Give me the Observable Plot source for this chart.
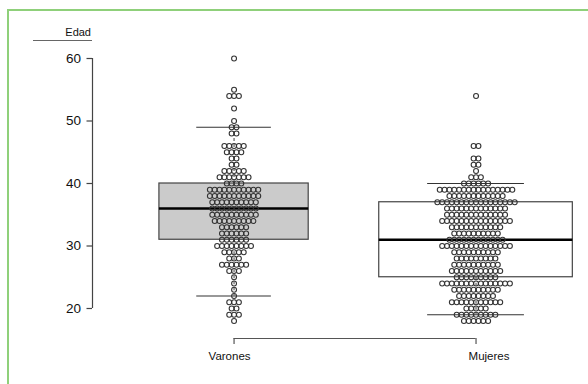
<!DOCTYPE html>
<html><head><meta charset="utf-8">
<script src="https://cdn.jsdelivr.net/npm/d3@7"></script>
<script src="https://cdn.jsdelivr.net/npm/@observablehq/plot@0.6"></script>
<style>
html,body{margin:0;padding:0;background:#fff;overflow:hidden;}
#wrap{position:relative;width:588px;height:384px;font-family:"Liberation Sans",Arial,sans-serif;}
#border{position:absolute;left:7px;top:9px;width:640px;height:440px;border:2px solid #8fd07a;box-sizing:border-box;}
#chart{position:absolute;left:0;top:0;}
#ylab{position:absolute;left:33px;top:26px;width:58px;text-align:right;font-size:11px;color:#111;border-bottom:1.5px solid #666;line-height:13px;padding-bottom:1px;padding-right:1px;box-sizing:content-box;}
</style></head><body>
<div id="wrap"><div id="border"></div><div id="chart"></div><div id="ylab">Edad</div></div>
<script>
// ---- data ----
const categories = ["Varones", "Mujeres"];
const yTicks = [20, 30, 40, 50, 60];

const varonesAges   = [60,55,54,52,50,49,48,46,45,44,43,42,41,40,39,38,37,36,35,34,33,32,31,30,29,28,27,26,25,24,23,22,21,20,19,18];
const varonesCounts = [ 1, 1, 3, 1, 1, 2, 2, 5, 4, 2, 2, 5, 7, 4,11,11,10,10,10, 9, 6, 6, 6, 8, 5, 3, 6, 3, 1, 1, 1, 1, 3, 2, 3, 1];

const mujeresAges   = [54,46,44,43,42,41,40,39,38,37,36,35,34,33,32,31,30,29,28,27,26,25,24,23,22,21,20,19,18];
const mujeresCounts = [ 1, 2, 2, 2, 1, 3, 6,16,12,17,13,13,15,11,10,12,15,10, 9,10,11, 9,15,10, 8,11, 5, 9, 6];

// box summaries (Q1, median, Q3, whisker ends)
const q1Values     = [31, 25];
const medianValues = [36, 31];
const q3Values     = [40, 37];
const whiskerLo    = [22, 19];
const whiskerHi    = [49, 40];
const boxFills     = ["#cbcbcb", "#ffffff"];

// ---- build tables ----
const groupAges = [varonesAges, mujeresAges];
const groupCounts = [varonesCounts, mujeresCounts];
const spacing = 0.02;
const points = [];
groupAges.forEach((ages, gi) => {
  ages.forEach((age, k) => {
    const n = groupCounts[gi][k];
    for (let i = 0; i < n; i++) points.push({g: gi + 1, x: gi + 1 + (i - (n - 1) / 2) * spacing, y: age});
  });
});
const totals = groupCounts.map(c => d3.sum(c));
const nmax = d3.max(totals);
const boxes = categories.map((c, i) => {
  const hw = 0.4 * Math.sqrt(totals[i] / nmax);
  return {g: i + 1, name: c, q1: q1Values[i], med: medianValues[i], q3: q3Values[i],
          lo: whiskerLo[i], hi: whiskerHi[i], x1: i + 1 - hw, x2: i + 1 + hw,
          c1: i + 1 - hw / 2, c2: i + 1 + hw / 2, fill: boxFills[i]};
});

const xDomain = [0.415, 2.44];
const yDomain = [20, 60];
const labelDx = [-4.5, 13];

const chart = Plot.plot({
  width: 588, height: 384,
  marginLeft: 92, marginRight: 6, marginTop: 58, marginBottom: 46,
  x: {domain: xDomain, axis: null},
  y: {domain: yDomain, range: [308, 58], axis: null},
  color: {type: "identity"},
  style: {fontFamily: "Liberation Sans, Arial, sans-serif", background: "transparent", color: "#111"},
  marks: [
    Plot.ruleX([xDomain[0]], {y1: yTicks[0], y2: yTicks[yTicks.length - 1], stroke: "#444", strokeWidth: 1.2}),
    Plot.axisY({ticks: yTicks, tickSize: 5.5, tickPadding: 6, fontSize: 13.5, label: null, stroke: "#444", strokeWidth: 1.2, fill: "#111"}),
    Plot.ruleY([yDomain[0]], {x1: 1, x2: 2, dy: 30, stroke: "#555", strokeWidth: 1.2}),
    Plot.axisX({ticks: [1, 2], tickSize: 6, tickFormat: () => "", label: null, stroke: "#555", strokeWidth: 1.2}),
    ...categories.map((c, i) => Plot.text([c], {x: i + 1, frameAnchor: "bottom", dy: 21.5, dx: labelDx[i], fontSize: 11.5, fill: "#111"})),
    Plot.rect(boxes, {x1: "x1", x2: "x2", y1: "q1", y2: "q3", fill: "fill", stroke: "#444", strokeWidth: 1.2}),
    Plot.ruleX(boxes, {x: "g", y1: "q3", y2: "hi", stroke: "#444", strokeDasharray: "3,3"}),
    Plot.ruleX(boxes, {x: "g", y1: "q1", y2: "lo", stroke: "#444", strokeDasharray: "3,3"}),
    Plot.ruleY(boxes, {y: "hi", x1: "c1", x2: "c2", stroke: "#333", strokeWidth: 1.2}),
    Plot.ruleY(boxes, {y: "lo", x1: "c1", x2: "c2", stroke: "#333", strokeWidth: 1.2}),
    Plot.ruleY(boxes, {y: "med", x1: "x1", x2: "x2", stroke: "#000", strokeWidth: 2.6}),
    Plot.dot(points, {x: "x", y: "y", r: 2.45, stroke: "#333", strokeWidth: 1.1, fill: "none"})
  ]
});
document.getElementById("chart").appendChild(chart);
</script>
</body></html>
